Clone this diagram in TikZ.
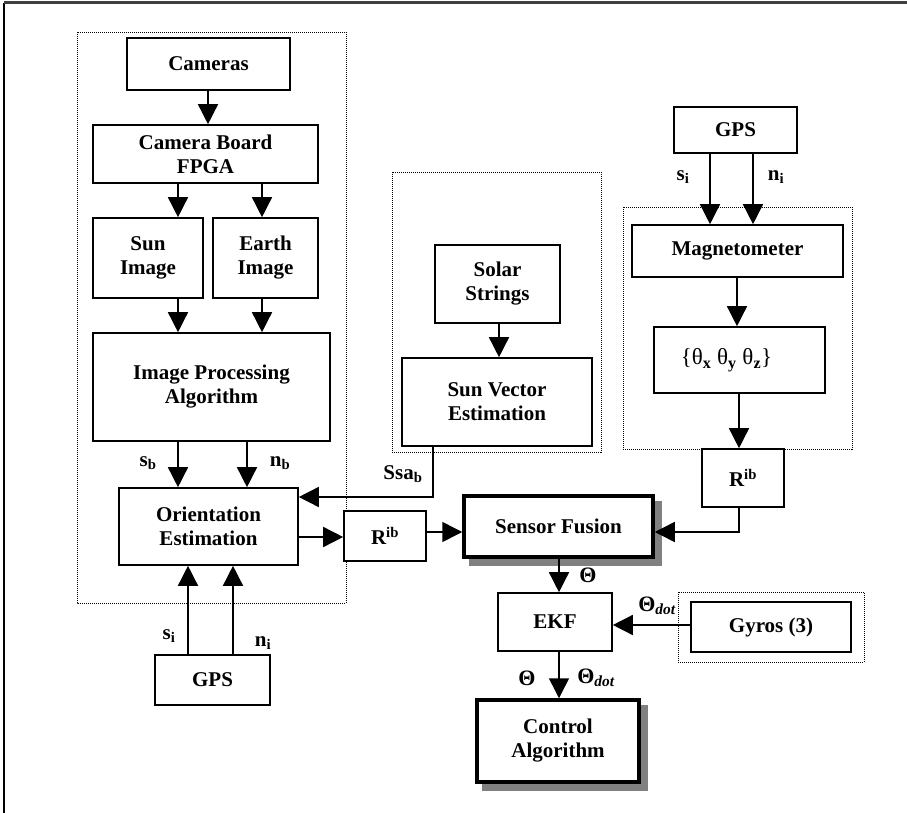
\documentclass[tikz,border=0pt]{standalone}
\usepackage{fontspec}
\setmainfont{Liberation Serif}
\usetikzlibrary{arrows.meta,backgrounds}
\begin{document}
\begin{tikzpicture}[x=1pt,y=-1pt,
  box/.style={draw,line width=1.6pt,fill=white,inner sep=0pt,align=center,font=\fontsize{21}{24}\selectfont\bfseries},
  bigbox/.style={box,line width=3.5pt},
  shadowfill/.style={fill=black!50},
  grp/.style={draw,line width=0.8pt,dash pattern=on 1pt off 1pt},
  arr/.style={line width=1.5pt,-{Triangle[length=20pt,width=20pt]}},
  lbl/.style={inner sep=0pt,font=\fontsize{21}{24}\selectfont\bfseries},
  thl/.style={inner sep=0pt,font=\fontsize{22}{24}\selectfont\bfseries}]
\useasboundingbox (0,0) rectangle (907,813);
% outer frame
\draw[line width=1.2pt] (4,813) -- (4,3);
\draw[line width=3pt,black!75] (4,3) -- (907,3);
% dotted group frames
\draw[grp] (77,32) rectangle (346,603);
\draw[grp] (392,172) rectangle (601,452);
\draw[grp] (623,207) rectangle (852,449);
\draw[grp] (678,592) rectangle (864,662);
% boxes
\node[box,minimum width=163,minimum height=52] (cam) at (208.5,64) {Cameras};
\node[box,minimum width=225,minimum height=58] (board) at (205.5,154) {Camera Board\\FPGA};
\node[box,minimum width=110,minimum height=80] (sun) at (148,258) {Sun\\Image};
\node[box,minimum width=105,minimum height=80] (earth) at (265.5,258) {Earth\\Image};
\node[box,minimum width=237,minimum height=108] (imgproc) at (211.5,387) {Image Processing\\Algorithm};
\node[box,minimum width=179,minimum height=77] (orient) at (208.5,526.5) {Orientation\\Estimation};
\node[box,minimum width=115,minimum height=50] (gpsL) at (212.5,680) {GPS};
\node[box,minimum width=82,minimum height=50] (RL) at (385,536) {R\textsuperscript{ib}};
\node[box,minimum width=125,minimum height=78] (solar) at (497.5,284) {Solar\\Strings};
\node[box,minimum width=190,minimum height=88] (sunvec) at (497,402) {Sun Vector\\Estimation};
\node[box,minimum width=123,minimum height=46] (gpsR) at (735.5,130) {GPS};
\node[box,minimum width=211,minimum height=52] (mag) at (737.5,251) {Magnetometer};
\node[box,minimum width=171,minimum height=66] (theta) at (739.5,360) {\mdseries\fontsize{23}{24}\selectfont\{θ\textsubscript{\bfseries x} θ\textsubscript{\bfseries y} θ\textsubscript{\bfseries z}\}\hspace*{26pt}};
\node[box,minimum width=82,minimum height=58] (RR) at (743,478) {R\textsuperscript{ib}};
\node[bigbox,minimum width=189,minimum height=61] (sf) at (558.5,526.5) {Sensor Fusion};
\node[box,minimum width=114,minimum height=58] (ekf) at (555,622) {EKF};
\node[box,minimum width=160,minimum height=50] (gyros) at (771,627) {Gyros (3)};
\node[bigbox,minimum width=162,minimum height=82] (ctrl) at (558,741) {Control\\Algorithm};
% shadows
\begin{scope}[on background layer]
\fill[shadowfill] ([shift={(7,7)}]sf.north west) rectangle ([shift={(7,7)}]sf.south east);
\fill[shadowfill] ([shift={(7,7)}]ctrl.north west) rectangle ([shift={(7,7)}]ctrl.south east);
\end{scope}
% connectors
\draw[arr] (cam.south -| 208,0) -- (board.north -| 208,0);
\draw[arr] (board.south -| 178,0) -- (sun.north -| 178,0);
\draw[arr] (board.south -| 262,0) -- (earth.north -| 262,0);
\draw[arr] (sun.south -| 178,0) -- (imgproc.north -| 178,0);
\draw[arr] (earth.south -| 262,0) -- (imgproc.north -| 262,0);
\draw[arr] (imgproc.south -| 178,0) -- (orient.north -| 178,0);
\draw[arr] (imgproc.south -| 247,0) -- (orient.north -| 247,0);
\draw[arr] (gpsL.north -| 188,0) -- (orient.south -| 188,0);
\draw[arr] (gpsL.north -| 233,0) -- (orient.south -| 233,0);
\draw[arr] (orient.east |- 0,537) -- (RL.west |- 0,537);
\draw[arr] (RL.east |- 0,532) -- (sf.west |- 0,532);
\draw[arr] (solar.south -| 499,0) -- (sunvec.north -| 499,0);
\draw[arr] (sunvec.south -| 433,0) |- (orient.east |- 0,497);
\draw[arr] (gpsR.south -| 710,0) -- (mag.north -| 710,0);
\draw[arr] (gpsR.south -| 753,0) -- (mag.north -| 753,0);
\draw[arr] (mag.south -| 737,0) -- (theta.north -| 737,0);
\draw[arr] (theta.south -| 739,0) -- (RR.north -| 739,0);
\draw[arr] (RR.south -| 739,0) |- (sf.east |- 0,532);
\draw[arr] (sf.south -| 559,0) -- (ekf.north -| 559,0);
\draw[arr] (gyros.west |- 0,625) -- (ekf.east |- 0,625);
\draw[arr] (ekf.south -| 559,0) -- (ctrl.north -| 559,0);
% labels
\node[lbl] (lsb) at (148,463) {s\textsubscript{b}};
\node[lbl] (lnb) at (280,463) {n\textsubscript{b}};
\node[lbl] (lssa) at (403,474) {Ssa\textsubscript{b}};
\node[lbl] (lsiL) at (169,636) {s\textsubscript{i}};
\node[lbl] (lniL) at (263,643) {n\textsubscript{i}};
\node[lbl] (lsiR) at (683,177) {s\textsubscript{i}};
\node[lbl] (lniR) at (776,177) {n\textsubscript{i}};
\node[thl] (lth1) at (588,575) {Θ};
\node[thl] (lthd1) at (657,606) {Θ\textsubscript{\itshape dot}};
\node[thl] (lth2) at (527,678) {Θ};
\node[thl] (lthd2) at (596,678) {Θ\textsubscript{\itshape dot}};
\end{tikzpicture}
\end{document}
